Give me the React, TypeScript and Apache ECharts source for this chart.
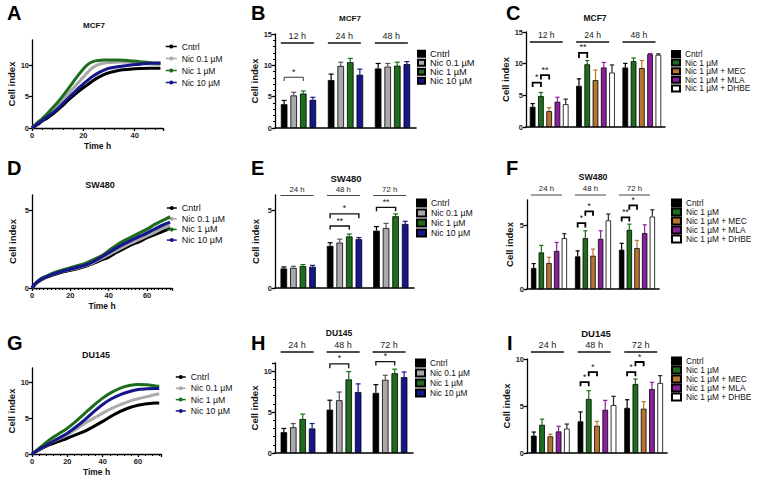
import React, { useEffect, useRef } from 'react';
import * as echarts from 'echarts';

const FONT = "'Liberation Sans', Arial, Helvetica, sans-serif";

const COL_CNTRL = '#000000';
const COL_N01 = '#a9a9a9';
const COL_N1 = '#1c6e1c';
const COL_N10 = '#16168c';
const COL_MEC = '#b7742f';
const COL_MLA = '#8c1f9e';
const COL_DHBE = '#ffffff';

// ---------- A: MCF7 growth curves ----------
const A_time = [0, 2, 4, 6, 8, 10, 12, 14, 16, 18, 20, 22, 24, 26, 28, 30, 34, 38, 42, 46, 50];
const A_cntrl = [0, 0.5, 1.1, 1.6, 2.2, 2.9, 3.6, 4.4, 5.1, 5.8, 6.4, 7.0, 7.6, 8.1, 8.5, 8.8, 9.2, 9.35, 9.45, 9.5, 9.5];
const A_nic01 = [0, 0.7, 1.3, 2.0, 2.8, 3.6, 4.5, 5.4, 6.3, 7.2, 8.1, 9.0, 9.7, 10.1, 10.3, 10.4, 10.5, 10.45, 10.35, 10.2, 10.1];
const A_nic1 = [0, 0.8, 1.5, 2.3, 3.2, 4.1, 5.1, 6.2, 7.3, 8.4, 9.4, 10.2, 10.6, 10.75, 10.8, 10.8, 10.8, 10.7, 10.55, 10.4, 10.3];
const A_nic10 = [0, 0.6, 1.2, 1.8, 2.4, 3.1, 3.9, 4.7, 5.5, 6.3, 7.0, 7.7, 8.3, 8.8, 9.2, 9.5, 9.8, 10.0, 10.15, 10.3, 10.35];

// ---------- D: SW480 growth curves ----------
const D_time = [0, 2, 5, 10, 15, 20, 25, 28, 32, 36, 40, 44, 48, 52, 56, 60, 64, 68, 72];
const D_cntrl = [0, 0.3, 0.55, 0.8, 1.0, 1.15, 1.3, 1.4, 1.6, 1.8, 2.0, 2.3, 2.55, 2.8, 3.0, 3.25, 3.45, 3.65, 3.85];
const D_nic01 = [0, 0.3, 0.58, 0.85, 1.05, 1.2, 1.35, 1.45, 1.65, 1.9, 2.15, 2.42, 2.68, 2.92, 3.15, 3.37, 3.6, 3.85, 4.05];
const D_nic1 = [0, 0.32, 0.62, 0.9, 1.12, 1.3, 1.48, 1.6, 1.82, 2.05, 2.4, 2.75, 3.05, 3.3, 3.55, 3.8, 4.1, 4.35, 4.6];
const D_nic10 = [0, 0.3, 0.58, 0.85, 1.05, 1.22, 1.38, 1.48, 1.7, 1.98, 2.28, 2.58, 2.85, 3.1, 3.32, 3.55, 3.8, 4.05, 4.25];

// ---------- G: DU145 growth curves ----------
const G_time = [0, 5, 10, 15, 20, 25, 30, 35, 40, 45, 50, 55, 60, 65, 70, 72];
const G_cntrl = [0, 0.7, 1.3, 1.75, 2.2, 2.7, 3.2, 3.85, 4.55, 5.3, 5.95, 6.45, 6.8, 7.0, 7.1, 7.1];
const G_nic01 = [0, 0.8, 1.5, 2.1, 2.7, 3.5, 4.3, 5.0, 5.7, 6.35, 6.9, 7.35, 7.7, 8.0, 8.3, 8.4];
const G_nic1 = [0, 1.0, 2.0, 2.8, 3.6, 4.6, 5.7, 6.8, 7.8, 8.6, 9.2, 9.55, 9.7, 9.65, 9.5, 9.45];
const G_nic10 = [0, 0.8, 1.5, 2.2, 2.9, 3.8, 4.8, 5.9, 6.9, 7.7, 8.3, 8.7, 9.0, 9.1, 9.15, 9.15];

// ---------- B: MCF7 bars ----------
const B_cats = ['12 h', '24 h', '48 h'];
const B_cntrl = [3.8, 7.65, 9.5];
const B_cntrl_err = [0.6, 0.95, 0.8];
const B_nic01 = [5.2, 9.9, 9.8];
const B_nic01_err = [0.5, 0.6, 0.5];
const B_nic1 = [5.5, 10.5, 9.95];
const B_nic1_err = [0.4, 0.6, 0.55];
const B_nic10 = [4.5, 8.5, 10.2];
const B_nic10_err = [0.4, 0.9, 0.4];
const B_sig = [{ t: 0, a: 0, b: 2, y: 8.1, d: 7.5, s: '*' }];

// ---------- C: MCF7 inhibitors ----------
const C_cats = ['12 h', '24 h', '48 h'];
const C_cntrl = [3.2, 6.5, 9.4];
const C_cntrl_err = [0.5, 1.1, 0.65];
const C_nic1 = [4.9, 9.9, 10.4];
const C_nic1_err = [0.55, 0.6, 0.5];
const C_mec = [2.5, 7.4, 9.3];
const C_mec_err = [0.55, 1.6, 1.2];
const C_mla = [4.0, 9.4, 11.5];
const C_mla_err = [0.7, 0.8, 0.1];
const C_dhbe = [3.6, 8.6, 11.4];
const C_dhbe_err = [0.8, 1.2, 0.15];
const C_sig = [
  { t: 0, a: 0, b: 1, y: 7.0, d: 6.3, s: '*' },
  { t: 0, a: 1, b: 2, y: 8.2, d: 7.5, s: '**' },
  { t: 1, a: 0, b: 1, y: 11.7, d: 10.9, s: '**' },
];

// ---------- E: SW480 bars ----------
const E_cats = ['24 h', '48 h', '72 h'];
const E_cntrl = [1.26, 2.72, 3.7];
const E_cntrl_err = [0.1, 0.2, 0.26];
const E_nic01 = [1.3, 2.93, 3.87];
const E_nic01_err = [0.1, 0.22, 0.3];
const E_nic1 = [1.41, 3.33, 4.63];
const E_nic1_err = [0.1, 0.15, 0.15];
const E_nic10 = [1.37, 3.15, 4.13];
const E_nic10_err = [0.09, 0.1, 0.17];
const E_sig = [
  { t: 1, a: 0, b: 2, y: 4.0, d: 3.78, s: '**' },
  { t: 1, a: 0, b: 3, y: 4.78, d: 4.5, s: '*' },
  { t: 2, a: 0, b: 2, y: 5.2, d: 4.95, s: '**' },
];

// ---------- F: SW480 inhibitors ----------
const F_cats = ['24 h', '48 h', '72 h'];
const F_cntrl = [1.65, 2.57, 3.09];
const F_cntrl_err = [0.35, 0.43, 0.5];
const F_nic1 = [2.88, 4.0, 4.66];
const F_nic1_err = [0.55, 0.58, 0.44];
const F_mec = [2.04, 2.62, 3.22];
const F_mec_err = [0.46, 0.52, 0.6];
const F_mla = [3.0, 3.95, 4.4];
const F_mla_err = [0.66, 0.63, 0.65];
const F_dhbe = [4.0, 5.4, 5.7];
const F_dhbe_err = [0.35, 0.5, 0.53];
const F_sig = [
  { t: 1, a: 0, b: 1, y: 5.18, d: 4.84, s: '*' },
  { t: 1, a: 1, b: 2, y: 6.1, d: 5.76, s: '*' },
  { t: 2, a: 0, b: 1, y: 5.63, d: 5.3, s: '**' },
  { t: 2, a: 1, b: 2, y: 6.57, d: 6.23, s: '*' },
];

// ---------- H: DU145 bars ----------
const H_cats = ['24 h', '48 h', '72 h'];
const H_cntrl = [2.55, 5.3, 7.35];
const H_cntrl_err = [0.45, 1.15, 1.0];
const H_nic01 = [3.15, 6.45, 8.95];
const H_nic01_err = [0.45, 1.0, 0.55];
const H_nic1 = [4.15, 9.0, 9.75];
const H_nic1_err = [0.6, 0.95, 0.5];
const H_nic10 = [3.0, 7.45, 9.27];
const H_nic10_err = [0.6, 1.0, 0.63];
const H_sig = [
  { t: 1, a: 0, b: 2, y: 10.9, d: 10.35, s: '*' },
  { t: 2, a: 0, b: 2, y: 11.17, d: 10.7, s: '*' },
];

// ---------- I: DU145 inhibitors ----------
const I_cats = ['24 h', '48 h', '72 h'];
const I_cntrl = [1.85, 3.37, 4.8];
const I_cntrl_err = [0.38, 1.0, 0.87];
const I_nic1 = [3.0, 5.75, 7.34];
const I_nic1_err = [0.6, 0.88, 0.53];
const I_mec = [1.77, 2.9, 4.72];
const I_mec_err = [0.23, 0.47, 0.74];
const I_mla = [2.3, 4.6, 6.8];
const I_mla_err = [0.54, 1.0, 0.72];
const I_dhbe = [2.6, 5.1, 7.45];
const I_dhbe_err = [0.48, 0.93, 0.78];
const I_sig = [
  { t: 1, a: 0, b: 1, y: 7.55, d: 7.1, s: '*' },
  { t: 1, a: 1, b: 2, y: 8.6, d: 8.16, s: '*' },
  { t: 2, a: 0, b: 1, y: 8.6, d: 8.16, s: '*' },
  { t: 2, a: 1, b: 2, y: 9.68, d: 9.22, s: '*' },
];

const NAMES4 = ['Cntrl', 'Nic 0.1 µM', 'Nic 1 µM', 'Nic 10 µM'];
const NAMES5 = ['Cntrl', 'Nic 1 µM', 'Nic 1 µM + MEC', 'Nic 1 µM + MLA', 'Nic 1 µM + DHBE'];
const COLS4 = [COL_CNTRL, COL_N01, COL_N1, COL_N10];
const COLS5 = [COL_CNTRL, COL_N1, COL_MEC, COL_MLA, COL_DHBE];

// layout: [left, top, width, height]
const GRIDS = [
  [32, 40, 131, 88],   // A 0
  [275, 34, 141, 94],  // B 1
  [526, 32, 139, 95],  // C 2
  [32, 195, 140, 93],  // D 3
  [275, 195, 139, 93], // E 4
  [527, 200, 132, 89], // F 5
  [32, 368, 129, 86],  // G 6
  [275, 363, 138, 90], // H 7
  [527, 359, 140, 94], // I 8
];

const axisLineStyle = { color: '#000', width: 1.3 };
const tickLabel = (fs: number, showMax: boolean) => ({
  fontSize: fs, fontWeight: 'bold', color: '#222', margin: 3, fontFamily: FONT,
  showMaxLabel: showMax,
});

function errColor(c: string) {
  if (c === COL_DHBE) return '#222';
  if (c === COL_N01) return '#555';
  return c;
}

type BarPanel = {
  id: string; gi: number; cats: string[]; names: string[]; cols: string[];
  vals: number[][]; errs: number[][]; sig: any[];
  barW: number; barG: number; ymax: number; showMax: boolean; minor: boolean; nameGap: number;
  header: { y: number; len: number; fs: number; lw: number; color: string };
  br: { lw: number; fs: number; color: string };
  leg: { left: number; y0: number; sp: number; iw: number; ih: number; fs: number };
};

function groupGeom(cx: number, n: number, w: number, g: number) {
  const total = n * w + (n - 1) * g * w;
  return { left: cx - total / 2, step: w * (1 + g), total };
}

function buildBar(p: BarPanel, xAxes: any[], yAxes: any[], series: any[], legends: any[]) {
  const n = p.names.length;
  xAxes.push({
    type: 'category', gridIndex: p.gi, data: p.cats,
    axisLine: { lineStyle: { color: '#000', width: 1.6 } },
    axisTick: { show: false }, axisLabel: { show: false }, splitLine: { show: false },
  });
  yAxes.push({
    type: 'value', gridIndex: p.gi, min: 0, max: p.ymax, interval: 5,
    axisLine: { show: true, lineStyle: axisLineStyle },
    axisTick: { show: true, length: 3, lineStyle: axisLineStyle },
    minorTick: { show: p.minor, splitNumber: 5, length: 2, lineStyle: { color: '#000', width: 1 } },
    splitLine: { show: false },
    axisLabel: tickLabel(7.5, p.showMax),
    name: 'Cell index', nameLocation: 'middle', nameGap: p.nameGap,
    nameTextStyle: { fontSize: 9.5, fontWeight: 'bold', color: '#111', fontFamily: FONT },
  });
  const names = p.names.map((nm) => p.id + '|' + nm);
  p.names.forEach((nm, k) => {
    series.push({
      type: 'bar', name: names[k], xAxisIndex: p.gi, yAxisIndex: p.gi,
      data: p.vals[k], barWidth: p.barW, barGap: Math.round(p.barG * 100) + '%',
      itemStyle: { color: p.cols[k], borderColor: '#000', borderWidth: 0.8 },
      z: 2, silent: true,
    });
  });
  // error bars
  const errData: number[][] = [];
  p.vals.forEach((arr, k) => arr.forEach((v, t) => errData.push([t, k, v, v + p.errs[k][t]])));
  series.push({
    type: 'custom', xAxisIndex: p.gi, yAxisIndex: p.gi, clip: false, silent: true, z: 4,
    encode: { x: 0, y: 3 },
    data: errData,
    renderItem: (params: any, api: any) => {
      const t = api.value(0), k = api.value(1), v = api.value(2), up = api.value(3);
      const cx = api.coord([t, 0])[0];
      const gg = groupGeom(cx, n, p.barW, p.barG);
      const x = gg.left + k * gg.step + p.barW / 2;
      const y1 = api.coord([t, v])[1];
      const y2 = api.coord([t, up])[1];
      const c = errColor(p.cols[k]);
      const cap = p.barW * 0.38;
      return {
        type: 'group', children: [
          { type: 'line', shape: { x1: x, y1: y1, x2: x, y2: y2 }, style: { stroke: c, lineWidth: 1.2 } },
          { type: 'line', shape: { x1: x - cap, y1: y2, x2: x + cap, y2: y2 }, style: { stroke: c, lineWidth: 1.2 } },
        ],
      };
    },
  });
  // header labels (time points)
  series.push({
    type: 'custom', xAxisIndex: p.gi, yAxisIndex: p.gi, clip: false, silent: true, z: 4,
    encode: { x: 0, y: 1 },
    data: p.cats.map((_, i) => [i, 0]),
    renderItem: (params: any, api: any) => {
      const i = api.value(0);
      const cx = api.coord([i, 0])[0];
      const gg = groupGeom(cx, n, p.barW, p.barG);
      const x0 = gg.left;
      const x1 = gg.left + p.header.len;
      const mid = (x0 + x1) / 2;
      return {
        type: 'group', children: [
          { type: 'line', shape: { x1: x0, y1: p.header.y, x2: x1, y2: p.header.y }, style: { stroke: p.header.color, lineWidth: p.header.lw } },
          {
            type: 'text', x: mid, y: p.header.y - 2.5,
            style: {
              text: p.cats[i], fill: '#222', fontSize: p.header.fs, fontFamily: FONT,
              align: 'center', verticalAlign: 'bottom', textAlign: 'center', textVerticalAlign: 'bottom',
            },
          },
        ],
      };
    },
  });
  // significance brackets
  series.push({
    type: 'custom', xAxisIndex: p.gi, yAxisIndex: p.gi, clip: false, silent: true, z: 4,
    encode: { x: 0, y: 1 },
    data: p.sig.map((s) => [s.t, s.y]),
    renderItem: (params: any, api: any) => {
      const s = p.sig[params.dataIndex];
      const cx = api.coord([s.t, 0])[0];
      const gg = groupGeom(cx, n, p.barW, p.barG);
      const xa = gg.left + s.a * gg.step + p.barW / 2;
      const xb = gg.left + s.b * gg.step + p.barW / 2;
      const y = api.coord([s.t, s.y])[1];
      const yd = api.coord([s.t, s.d])[1];
      return {
        type: 'group', children: [
          {
            type: 'polyline', shape: { points: [[xa, yd], [xa, y], [xb, y], [xb, yd]] },
            style: { stroke: p.br.color, lineWidth: p.br.lw, fill: 'none' },
          },
          {
            type: 'text', x: (xa + xb) / 2, y: y - 1,
            style: {
              text: s.s, fill: '#111', fontSize: p.br.fs, fontFamily: FONT,
              align: 'center', verticalAlign: 'bottom', textAlign: 'center', textVerticalAlign: 'bottom',
            },
          },
        ],
      };
    },
  });
  legends.push({
    orient: 'vertical', left: p.leg.left, top: p.leg.y0 - p.leg.sp / 2, padding: 0, itemGap: 0,
    itemWidth: p.leg.iw, itemHeight: p.leg.ih, icon: 'rect', selectedMode: false,
    data: names, formatter: (nm: string) => nm.split('|')[1],
    textStyle: { fontSize: p.leg.fs, lineHeight: p.leg.sp, color: '#111', fontFamily: FONT },
  });
}

type LinePanel = {
  id: string; gi: number; time: number[]; vals: number[][]; xmax: number; ymax: number;
  lw: number; minorSplit: number; nameGap: number;
  leg: { left: number; y0: number; sp: number; iw: number; ih: number; fs: number };
};

function buildLine(p: LinePanel, xAxes: any[], yAxes: any[], series: any[], legends: any[]) {
  xAxes.push({
    type: 'value', gridIndex: p.gi, min: 0, max: p.xmax, interval: 20,
    axisLine: { show: true, lineStyle: axisLineStyle },
    axisTick: { show: true, length: 3, lineStyle: axisLineStyle },
    minorTick: { show: true, splitNumber: p.minorSplit, length: 2, lineStyle: { color: '#000', width: 1 } },
    splitLine: { show: false },
    axisLabel: tickLabel(7.5, false),
    name: 'Time h', nameLocation: 'middle', nameGap: 13,
    nameTextStyle: { fontSize: 8.5, fontWeight: 'bold', color: '#111', fontFamily: FONT },
  });
  yAxes.push({
    type: 'value', gridIndex: p.gi, min: 0, max: p.ymax, interval: 5,
    axisLine: { show: true, lineStyle: axisLineStyle },
    axisTick: { show: true, length: 3, lineStyle: axisLineStyle },
    splitLine: { show: false },
    axisLabel: tickLabel(7.5, false),
    name: 'Cell index', nameLocation: 'middle', nameGap: p.nameGap,
    nameTextStyle: { fontSize: 9.5, fontWeight: 'bold', color: '#111', fontFamily: FONT },
  });
  const names = NAMES4.map((nm) => p.id + '|' + nm);
  const order = [0, 1, 3, 2]; // draw green on top
  order.forEach((k) => {
    series.push({
      type: 'line', name: names[k], xAxisIndex: p.gi, yAxisIndex: p.gi,
      data: p.time.map((t, i) => [t, p.vals[k][i]]),
      smooth: 0.35, symbol: 'circle', symbolSize: 4, showSymbol: false,
      lineStyle: { width: p.lw, color: COLS4[k] }, itemStyle: { color: COLS4[k] },
      z: 2 + k, silent: true,
    });
  });
  legends.push({
    orient: 'vertical', left: p.leg.left, top: p.leg.y0 - p.leg.sp / 2, padding: 0, itemGap: 0,
    itemWidth: p.leg.iw, itemHeight: p.leg.ih, selectedMode: false,
    lineStyle: { width: 1.5 },
    data: names, formatter: (nm: string) => nm.split('|')[1],
    textStyle: { fontSize: p.leg.fs, lineHeight: p.leg.sp, color: '#111', fontFamily: FONT },
  });
}

const LETTERS = [
  { t: 'A', x: 7, y: 3 }, { t: 'B', x: 251, y: 3 }, { t: 'C', x: 506, y: 3 },
  { t: 'D', x: 7, y: 158 }, { t: 'E', x: 251, y: 158 }, { t: 'F', x: 506, y: 158 },
  { t: 'G', x: 7, y: 333 }, { t: 'H', x: 251, y: 333 }, { t: 'I', x: 507, y: 333 },
];
const TITLES = [
  { t: 'MCF7', x: 94, y: 25, fs: 8 }, { t: 'MCF7', x: 350, y: 18, fs: 8 }, { t: 'MCF7', x: 595, y: 18, fs: 8.5 },
  { t: 'SW480', x: 100, y: 185, fs: 9 }, { t: 'SW480', x: 346, y: 178, fs: 9.5 }, { t: 'SW480', x: 593, y: 177, fs: 8.8 },
  { t: 'DU145', x: 96, y: 355, fs: 9 }, { t: 'DU145', x: 339, y: 333, fs: 8.5 }, { t: 'DU145', x: 596, y: 333, fs: 9.5 },
];

function buildOption() {
  const xAxes: any[] = [];
  const yAxes: any[] = [];
  const series: any[] = [];
  const legends: any[] = [];

  buildLine({ id: 'A', gi: 0, time: A_time, vals: [A_cntrl, A_nic01, A_nic1, A_nic10], xmax: 51, ymax: 14, lw: 3, minorSplit: 5, nameGap: 15,
    leg: { left: 165, y0: 46.5, sp: 12, iw: 11, ih: 5, fs: 8.5 } }, xAxes, yAxes, series, legends);
  buildBar({ id: 'B', gi: 1, cats: B_cats, names: NAMES4, cols: COLS4,
    vals: [B_cntrl, B_nic01, B_nic1, B_nic10], errs: [B_cntrl_err, B_nic01_err, B_nic1_err, B_nic10_err], sig: B_sig,
    barW: 6.6, barG: 0.45, ymax: 15, showMax: true, minor: true, nameGap: 15,
    header: { y: 43, len: 33, fs: 9, lw: 1.6, color: '#111' }, br: { lw: 1, fs: 9, color: '#333' },
    leg: { left: 417, y0: 53.5, sp: 8.7, iw: 7, ih: 6, fs: 9.3 } }, xAxes, yAxes, series, legends);
  buildBar({ id: 'C', gi: 2, cats: C_cats, names: NAMES5, cols: COLS5,
    vals: [C_cntrl, C_nic1, C_mec, C_mla, C_dhbe], errs: [C_cntrl_err, C_nic1_err, C_mec_err, C_mla_err, C_dhbe_err], sig: C_sig,
    barW: 5.7, barG: 0.45, ymax: 15, showMax: true, minor: false, nameGap: 12,
    header: { y: 42, len: 33, fs: 8.6, lw: 1.6, color: '#111' }, br: { lw: 1.8, fs: 9, color: '#000' },
    leg: { left: 671, y0: 54, sp: 8.6, iw: 8, ih: 6, fs: 8.3 } }, xAxes, yAxes, series, legends);
  buildLine({ id: 'D', gi: 3, time: D_time, vals: [D_cntrl, D_nic01, D_nic1, D_nic10], xmax: 73, ymax: 6, lw: 3.2, minorSplit: 10, nameGap: 15,
    leg: { left: 166, y0: 208, sp: 10.7, iw: 10, ih: 5, fs: 9 } }, xAxes, yAxes, series, legends);
  buildBar({ id: 'E', gi: 4, cats: E_cats, names: NAMES4, cols: COLS4,
    vals: [E_cntrl, E_nic01, E_nic1, E_nic10], errs: [E_cntrl_err, E_nic01_err, E_nic1_err, E_nic10_err], sig: E_sig,
    barW: 6.6, barG: 0.45, ymax: 6, showMax: false, minor: false, nameGap: 15,
    header: { y: 195.5, len: 33, fs: 7.8, lw: 1, color: '#444' }, br: { lw: 1.4, fs: 8.5, color: '#111' },
    leg: { left: 416, y0: 203, sp: 10, iw: 9, ih: 7, fs: 8.7 } }, xAxes, yAxes, series, legends);
  buildBar({ id: 'F', gi: 5, cats: F_cats, names: NAMES5, cols: COLS5,
    vals: [F_cntrl, F_nic1, F_mec, F_mla, F_dhbe], errs: [F_cntrl_err, F_nic1_err, F_mec_err, F_mla_err, F_dhbe_err], sig: F_sig,
    barW: 5.4, barG: 0.42, ymax: 7, showMax: false, minor: false, nameGap: 13,
    header: { y: 195, len: 31, fs: 7.8, lw: 1, color: '#444' }, br: { lw: 1.8, fs: 8.5, color: '#000' },
    leg: { left: 671, y0: 203, sp: 9, iw: 9, ih: 7, fs: 8.3 } }, xAxes, yAxes, series, legends);
  buildLine({ id: 'G', gi: 6, time: G_time, vals: [G_cntrl, G_nic01, G_nic1, G_nic10], xmax: 73, ymax: 12, lw: 3, minorSplit: 5, nameGap: 15,
    leg: { left: 175, y0: 377, sp: 11.3, iw: 10, ih: 5, fs: 8.7 } }, xAxes, yAxes, series, legends);
  buildBar({ id: 'H', gi: 7, cats: H_cats, names: NAMES4, cols: COLS4,
    vals: [H_cntrl, H_nic01, H_nic1, H_nic10], errs: [H_cntrl_err, H_nic01_err, H_nic1_err, H_nic10_err], sig: H_sig,
    barW: 6.5, barG: 0.45, ymax: 11, showMax: false, minor: true, nameGap: 15,
    header: { y: 352, len: 33, fs: 9, lw: 1.5, color: '#111' }, br: { lw: 1.3, fs: 8.5, color: '#111' },
    leg: { left: 415, y0: 363, sp: 10, iw: 9, ih: 7, fs: 8.3 } }, xAxes, yAxes, series, legends);
  buildBar({ id: 'I', gi: 8, cats: I_cats, names: NAMES5, cols: COLS5,
    vals: [I_cntrl, I_nic1, I_mec, I_mla, I_dhbe], errs: [I_cntrl_err, I_nic1_err, I_mec_err, I_mla_err, I_dhbe_err], sig: I_sig,
    barW: 5.7, barG: 0.45, ymax: 10, showMax: true, minor: false, nameGap: 13,
    header: { y: 352, len: 33, fs: 9.2, lw: 1.5, color: '#111' }, br: { lw: 1.8, fs: 8.5, color: '#000' },
    leg: { left: 671, y0: 361, sp: 9, iw: 9, ih: 7, fs: 8.3 } }, xAxes, yAxes, series, legends);

  const graphics: any[] = [];
  LETTERS.forEach((l) => graphics.push({
    type: 'text', x: l.x, y: l.y, silent: true,
    style: { text: l.t, fill: '#000', fontSize: 20, fontWeight: 'bold', fontFamily: FONT, align: 'left', verticalAlign: 'top', textAlign: 'left', textVerticalAlign: 'top' },
  }));
  TITLES.forEach((t) => graphics.push({
    type: 'text', x: t.x, y: t.y, silent: true,
    style: { text: t.t, fill: '#111', fontSize: t.fs, fontWeight: 'bold', fontFamily: FONT, align: 'center', verticalAlign: 'middle', textAlign: 'center', textVerticalAlign: 'middle' },
  }));

  return {
    animation: false,
    backgroundColor: '#ffffff',
    textStyle: { fontFamily: FONT },
    grid: GRIDS.map((g) => ({ left: g[0], top: g[1], width: g[2], height: g[3], containLabel: false })),
    xAxis: xAxes,
    yAxis: yAxes,
    legend: legends,
    series,
    graphic: { elements: graphics },
  };
}

export default function App() {
  const ref = useRef<HTMLDivElement>(null);
  useEffect(() => {
    document.body.style.margin = '0';
    if (!ref.current) return;
    const chart = echarts.init(ref.current, null, { renderer: 'svg' });
    chart.setOption(buildOption() as any);
    return () => chart.dispose();
  }, []);
  return <div ref={ref} style={{ width: 759, height: 483 }} />;
}
